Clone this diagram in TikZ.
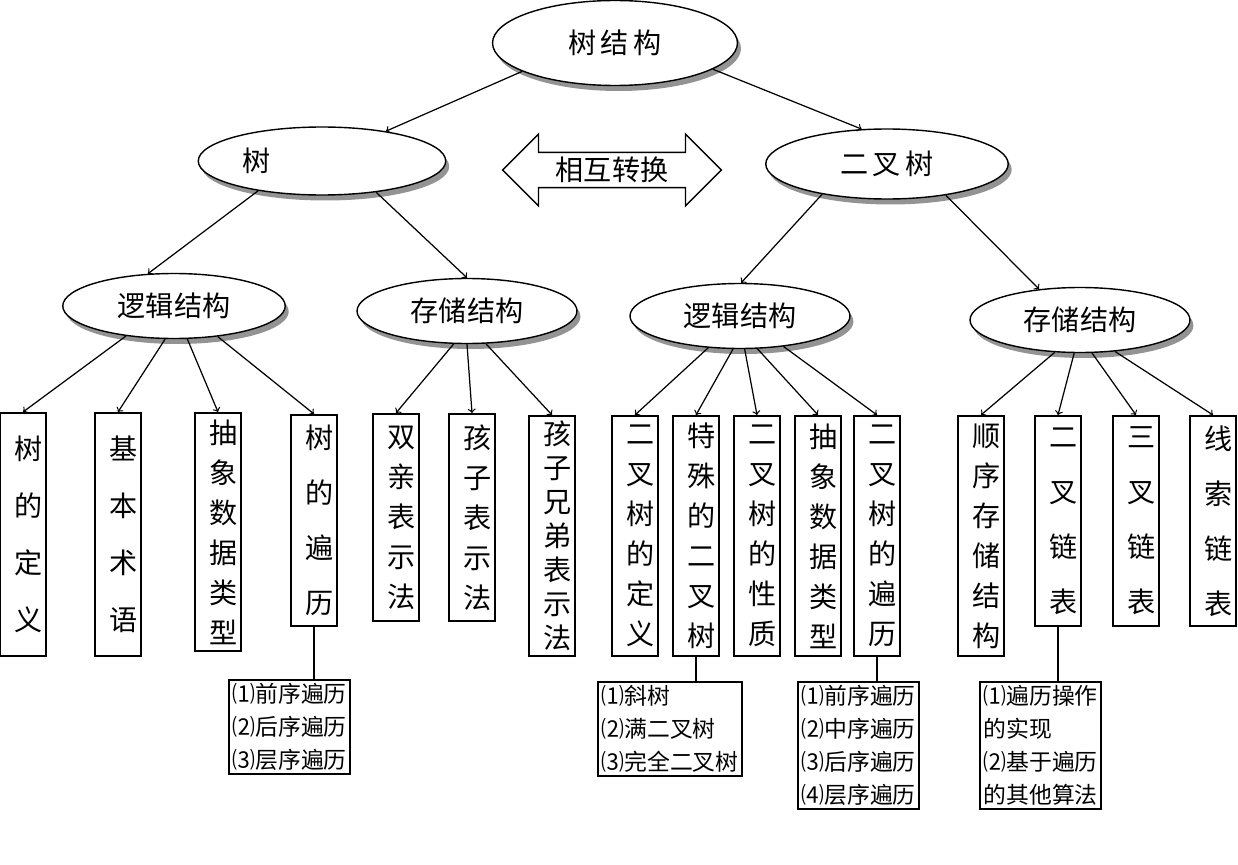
\documentclass[tikz,border=0pt]{standalone}
\usepackage{fontspec}
\newfontfamily\cjk{Noto Sans CJK SC}
\usetikzlibrary{shapes.geometric,shapes.arrows,shadows}

\tikzset{
  oval/.style={ellipse, draw, line width=0.8pt, fill=white, inner sep=0pt,
    drop shadow={shadow xshift=0.07cm, shadow yshift=-0.11cm, fill=gray!85, opacity=1},
    font=\cjk\fontsize{16pt}{18pt}\selectfont},
  vbox/.style={draw, line width=1.1pt, anchor=north, align=center, text width=1em,
    minimum width=0.92cm, inner xsep=0pt, inner ysep=0pt,
    font=\cjk\fontsize{16pt}{#1}\selectfont},
  note/.style={draw, line width=1.1pt, anchor=north west, align=left, inner sep=2pt,
    font=\cjk\fontsize{13pt}{0.66cm}\selectfont},
  arr/.style={->, line width=0.7pt}
}

\begin{document}
\begin{tikzpicture}[x=0.02cm, y=-0.02cm]
  \useasboundingbox (0,0) rectangle (1238,865);
  % ellipses
  \node[oval, minimum width=4.9cm, minimum height=1.7cm] (root) at (615,43) {树\,结\,构};
  \node[oval, minimum width=4.95cm, minimum height=1.36cm] (tree) at (322,161) {\hspace*{-2.6cm}树};
  \node[oval, minimum width=4.85cm, minimum height=1.4cm] (btree) at (887,164) {二\,叉\,树};
  \node[oval, minimum width=4.45cm, minimum height=1.3cm] (logL) at (174,306) {逻辑结构};
  \node[oval, minimum width=4.4cm, minimum height=1.3cm] (stoL) at (467,311) {存储结构};
  \node[oval, minimum width=4.4cm, minimum height=1.3cm] (logR) at (740,316) {逻辑结构};
  \node[oval, minimum width=4.4cm, minimum height=1.3cm] (stoR) at (1080,320) {存储结构};
  \node[double arrow, draw, line width=0.8pt, minimum width=1.44cm, minimum height=4.38cm,
    double arrow head extend=0.36cm, inner sep=2pt, font=\cjk\fontsize{16pt}{18pt}\selectfont]
    (conv) at (612,170) {相互转换};

  % boxes
  \node[vbox=1.14cm, minimum height=4.86cm] (a1) at (23,412) {树\\的\\定\\义};
  \node[vbox=1.14cm, minimum height=4.86cm] (a2) at (118,412) {基\\本\\术\\语};
  \node[vbox=0.8cm, minimum height=4.76cm] (a3) at (218,412) {抽\\象\\数\\据\\类\\型};
  \node[vbox=1.1cm, minimum height=4.22cm] (a4) at (314,414) {树\\的\\遍\\历};
  \node[vbox=0.8cm, minimum height=4.14cm] (b1) at (396,413) {双\\亲\\表\\示\\法};
  \node[vbox=0.8cm, minimum height=4.14cm] (b2) at (472,413) {孩\\子\\表\\示\\法};
  \node[vbox=0.68cm, minimum height=4.8cm] (b3) at (552,415) {孩\\子\\兄\\弟\\表\\示\\法};
  \node[vbox=0.8cm, minimum height=4.8cm] (c1) at (635,415) {二\\叉\\树\\的\\定\\义};
  \node[vbox=0.8cm, minimum height=4.8cm] (c2) at (696,415) {特\\殊\\的\\二\\叉\\树};
  \node[vbox=0.8cm, minimum height=4.8cm] (c3) at (757,415) {二\\叉\\树\\的\\性\\质};
  \node[vbox=0.8cm, minimum height=4.8cm] (c4) at (818,415) {抽\\象\\数\\据\\类\\型};
  \node[vbox=0.8cm, minimum height=4.8cm] (c5) at (877,415) {二\\叉\\树\\的\\遍\\历};
  \node[vbox=0.8cm, minimum height=4.8cm] (d1) at (981,415) {顺\\序\\存\\储\\结\\构};
  \node[vbox=1.1cm, minimum height=4.2cm] (d2) at (1058,415) {二\\叉\\链\\表};
  \node[vbox=1.1cm, minimum height=4.2cm] (d3) at (1136,415) {三\\叉\\链\\表};
  \node[vbox=1.1cm, minimum height=4.2cm] (d4) at (1213,415) {线\\索\\链\\表};

  % notes
  \node[note] (n1) at (228,679) {⑴前序遍历\\⑵后序遍历\\⑶层序遍历};
  \node[note] (n2) at (597,681) {⑴斜树\\⑵满二叉树\\⑶完全二叉树};
  \node[note] (n3) at (797,681) {⑴前序遍历\\⑵中序遍历\\⑶后序遍历\\⑷层序遍历};
  \node[note] (n4) at (979,681) {⑴遍历操作\\的实现\\⑵基于遍历\\的其他算法};

  % connectors
  \draw[arr] (root.197) -- (tree.25);
  \draw[arr] (root.345) -- (btree.126);
  \draw[arr] (tree.205) -- (logL.129);
  \draw[arr] (tree.330) -- (stoL.90);
  \draw[arr] (btree.205) -- (logR.88);
  \draw[arr] (btree.332) -- (stoR.143);
  \draw[arr] (logL.212) -- (a1.north);
  \draw[arr] (logL.255) -- (a2.north);
  \draw[arr] (logL.292) -- (a3.north);
  \draw[arr] (logL.325) -- (a4.north);
  \draw[arr] (stoL.248) -- (b1.north);
  \draw[arr] (stoL.270) -- (b2.north);
  \draw[arr] (stoL.300) -- (b3.north);
  \draw[arr] (logR.225) -- (c1.north);
  \draw[arr] (logR.258) -- (c2.north);
  \draw[arr] (logR.278) -- (c3.north);
  \draw[arr] (logR.298) -- (c4.north);
  \draw[arr] (logR.325) -- (c5.north);
  \draw[arr] (stoR.232) -- (d1.north);
  \draw[arr] (stoR.260) -- (d2.north);
  \draw[arr] (stoR.290) -- (d3.north);
  \draw[arr] (stoR.318) -- (d4.north);
  \draw[line width=0.8pt] (a4.south) -- (a4.south |- n1.north);
  \draw[line width=0.8pt] (c2.south) -- (c2.south |- n2.north);
  \draw[line width=0.8pt] (c5.south) -- (c5.south |- n3.north);
  \draw[line width=0.8pt] (d2.south) -- (d2.south |- n4.north);
\end{tikzpicture}
\end{document}
